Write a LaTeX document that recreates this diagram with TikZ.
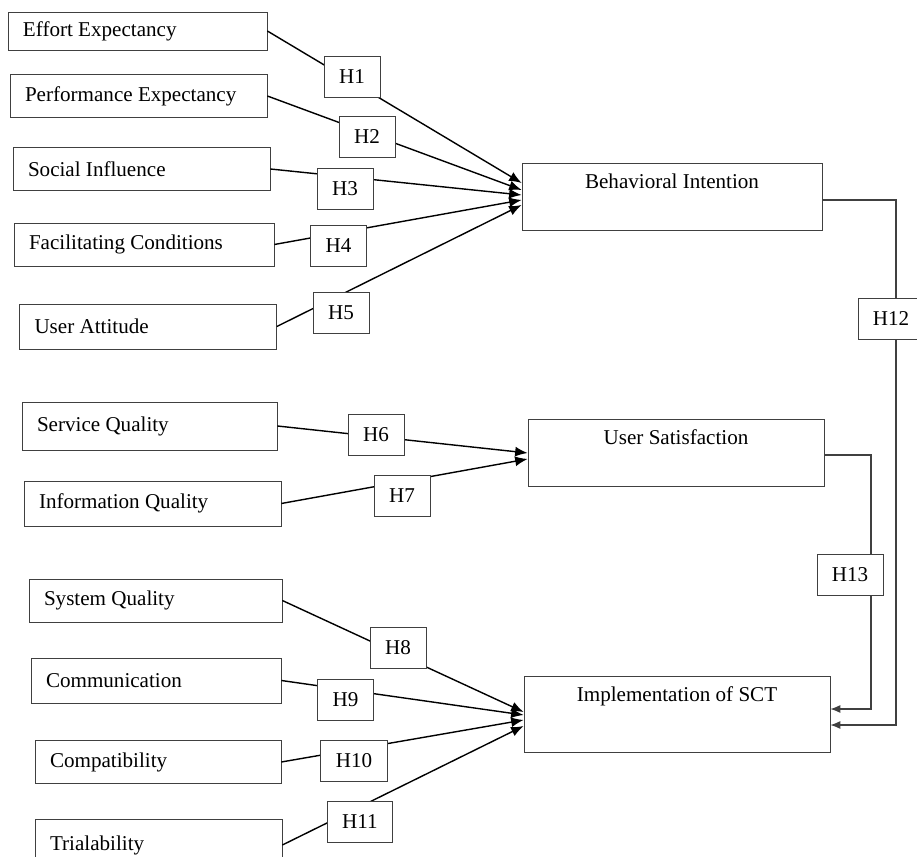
\documentclass[tikz,border=0pt]{standalone}
\usepackage{fontspec}
\setmainfont{Liberation Serif}
\usetikzlibrary{arrows, arrows.meta, positioning}

\begin{document}
\begin{tikzpicture}[
    font=\fontsize{12}{14}\selectfont,
    factor/.style={rectangle, draw=black!75, minimum height=0.86cm, text width=#1, align=flush left, inner xsep=0.3cm},
    factor/.default=4.54cm,
    outcome/.style={rectangle, draw=black!75, text height=0.38cm, text depth=0.70cm, inner ysep=0.13cm},
    hyp/.style={rectangle, draw=black!75, fill=white, minimum height=0.82cm, inner xsep=0.3cm},
    arrow/.style={-{Latex[length=2.5mm, width=2mm]}, thick},
    link/.style={black!75, semithick},
    linkarrow/.style={link, -{Latex[length=2mm, width=1.6mm]}}
]
    \useasboundingbox (0,0) rectangle (18.34,17.12);
    \clip (0,0) rectangle (18.34,17.12);

    % Factors
    \node [factor, text width=4.58cm, minimum height=0.76cm] (ee) at (2.75,16.50) {Effort Expectancy};
    \node [factor] (pe) at (2.77,15.20) {Performance Expectancy};
    \node [factor] (si) at (2.83,13.74) {Social Influence};
    \node [factor, text width=4.60cm] (fc) at (2.88,12.23) {Facilitating Conditions};
    \node [factor, minimum height=0.90cm] (ua) at (2.96,10.59) {User Attitude};
    \node [factor, text width=4.50cm, minimum height=0.96cm] (sq) at (2.99,8.60) {Service Quality};
    \node [factor, minimum height=0.90cm] (iq) at (3.05,7.05) {Information Quality};
    \node [factor, text width=4.46cm] (sysq) at (3.11,5.11) {System Quality};
    \node [factor, text width=4.40cm, minimum height=0.90cm] (comm) at (3.12,3.51) {Communication};
    \node [factor, text width=4.32cm] (compat) at (3.16,1.88) {Compatibility};
    \node [factor, text width=4.34cm, minimum height=1.04cm] (trial) at (3.17,0.22) {Trialability};

    % Outcomes
    \node [outcome, minimum width=6cm] (bi) at (13.44,13.19) {Behavioral Intention};
    \node [outcome, minimum width=5.92cm] (us) at (13.52,8.06) {User Satisfaction};
    \node [outcome, minimum width=6.12cm, text depth=0.88cm] (impl) at (13.54,2.84) {Implementation of SCT};

    % Paths
    \draw [arrow] (ee.east) -- ([yshift=0.27cm]bi.west);
    \draw [arrow] (pe.east) -- ([yshift=0.13cm]bi.west);
    \draw [arrow] (si.east) -- ([yshift=0.03cm]bi.west);
    \draw [arrow] (fc.east) -- ([yshift=-0.07cm]bi.west);
    \draw [arrow] (ua.east) -- ([yshift=-0.17cm]bi.west);
    \draw [arrow] (sq.east) -- (us.west);
    \draw [arrow] (iq.east) -- ([yshift=-0.12cm]us.west);
    \draw [arrow] (sysq.east) -- ([yshift=0.04cm]impl.west);
    \draw [arrow] (comm.east) -- ([yshift=-0.02cm]impl.west);
    \draw [arrow] (compat.east) -- ([yshift=-0.12cm]impl.west);
    \draw [arrow] (trial.east) -- ([yshift=-0.24cm]impl.west);

    % Hypotheses
    \node [hyp] (h1) at (7.04,15.59) {H1};
    \node [hyp] (h2) at (7.34,14.38) {H2};
    \node [hyp] (h3) at (6.90,13.35) {H3};
    \node [hyp] (h4) at (6.77,12.20) {H4};
    \node [hyp] (h5) at (6.82,10.87) {H5};
    \node [hyp] (h6) at (7.52,8.43) {H6};
    \node [hyp] (h7) at (8.04,7.20) {H7};
    \node [hyp] (h8) at (7.96,4.16) {H8};
    \node [hyp] (h9) at (6.91,3.12) {H9};
    \node [hyp] (h10) at (7.08,1.91) {H10};
    \node [hyp] (h11) at (7.20,0.68) {H11};
    \node [hyp] (h12) at (17.82,10.75) {H12};
    \node [hyp] (h13) at (17.00,5.63) {H13};

    % Mediation paths
    \draw [link] ([yshift=-0.07cm]bi.east) -| ([xshift=0.1cm]h12.north);
    \draw [linkarrow] ([xshift=0.1cm]h12.south) |- ([yshift=-0.22cm]impl.east);
    \draw [link] ([yshift=-0.04cm]us.east) -| ([xshift=0.42cm]h13.north);
    \draw [linkarrow] ([xshift=0.42cm]h13.south) |- ([yshift=0.10cm]impl.east);
\end{tikzpicture}
\end{document}
